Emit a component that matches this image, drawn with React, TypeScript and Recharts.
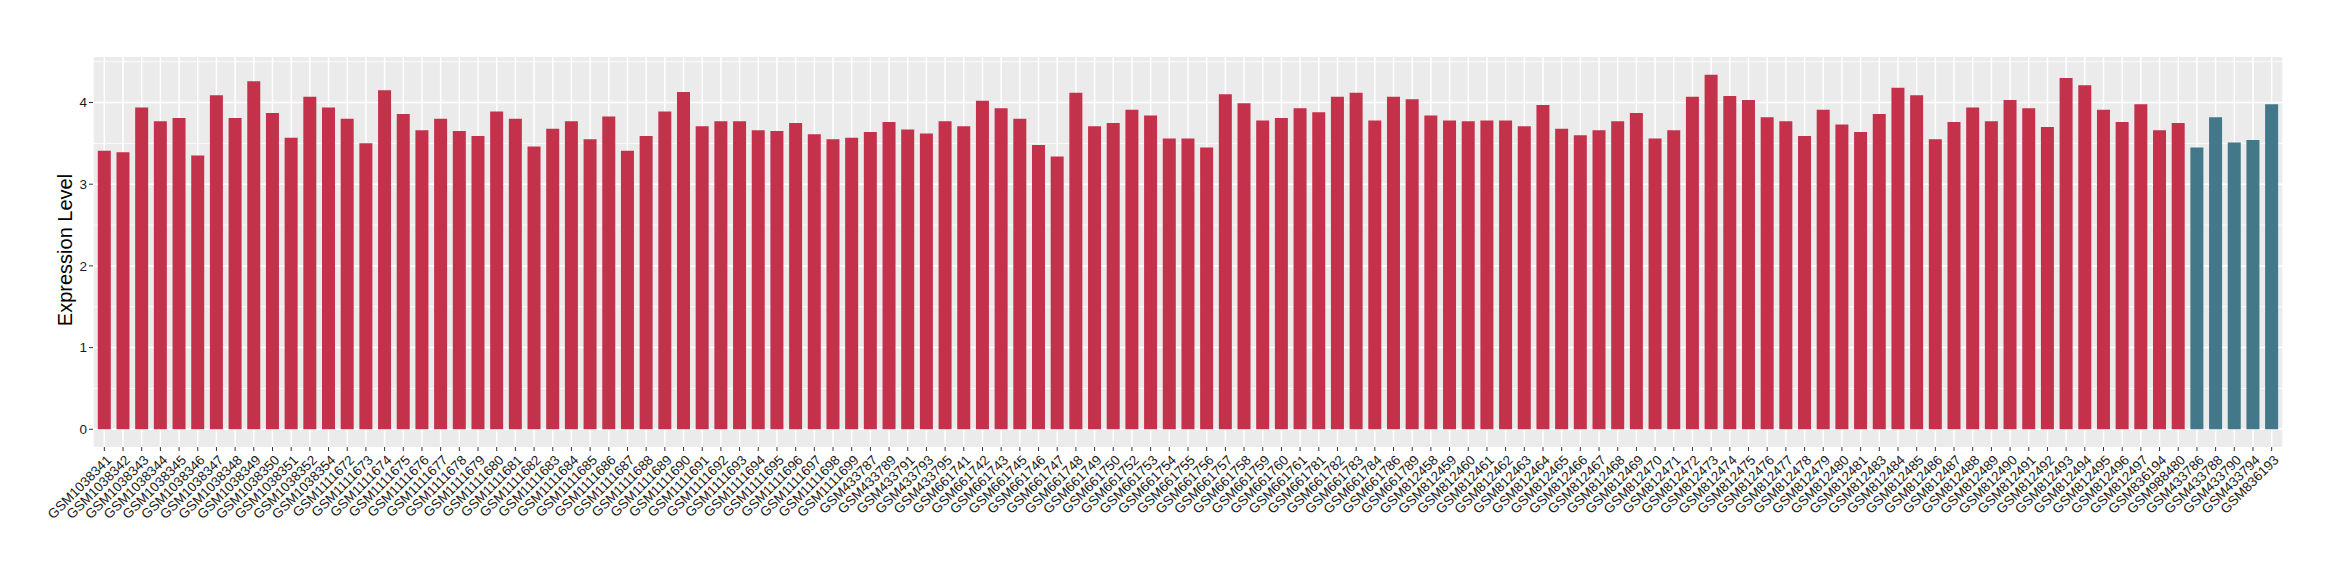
import React from "react";
import { Bar, BarChart, CartesianGrid, Cell, XAxis, YAxis } from "recharts";

const samples = [
  "GSM1038341", "GSM1038342", "GSM1038343", "GSM1038344", "GSM1038345", "GSM1038346", "GSM1038347",
  "GSM1038348", "GSM1038349", "GSM1038350", "GSM1038351", "GSM1038352", "GSM1038354",
  "GSM1111672", "GSM1111673", "GSM1111674", "GSM1111675", "GSM1111676", "GSM1111677", "GSM1111678",
  "GSM1111679", "GSM1111680", "GSM1111681", "GSM1111682", "GSM1111683", "GSM1111684", "GSM1111685",
  "GSM1111686", "GSM1111687", "GSM1111688", "GSM1111689", "GSM1111690", "GSM1111691", "GSM1111692",
  "GSM1111693", "GSM1111694", "GSM1111695", "GSM1111696", "GSM1111697", "GSM1111698", "GSM1111699",
  "GSM433787", "GSM433789", "GSM433791", "GSM433793", "GSM433795",
  "GSM661741", "GSM661742", "GSM661743", "GSM661745", "GSM661746", "GSM661747", "GSM661748",
  "GSM661749", "GSM661750", "GSM661752", "GSM661753", "GSM661754", "GSM661755", "GSM661756",
  "GSM661757", "GSM661758", "GSM661759", "GSM661760", "GSM661761", "GSM661781", "GSM661782",
  "GSM661783", "GSM661784", "GSM661786", "GSM661789",
  "GSM812458", "GSM812459", "GSM812460", "GSM812461", "GSM812462", "GSM812463", "GSM812464",
  "GSM812465", "GSM812466", "GSM812467", "GSM812468", "GSM812469", "GSM812470", "GSM812471",
  "GSM812472", "GSM812473", "GSM812474", "GSM812475", "GSM812476", "GSM812477", "GSM812478",
  "GSM812479", "GSM812480", "GSM812481", "GSM812483", "GSM812484", "GSM812485", "GSM812486",
  "GSM812487", "GSM812488", "GSM812489", "GSM812490", "GSM812491", "GSM812492", "GSM812493",
  "GSM812494", "GSM812495", "GSM812496", "GSM812497", "GSM836194", "GSM988480",
  "GSM433786", "GSM433788", "GSM433790", "GSM433794", "GSM836193",
];

const expression = [
  3.41, 3.39, 3.94, 3.77, 3.81, 3.35, 4.09, 3.81, 4.26, 3.87, 3.57, 4.07, 3.94,
  3.8, 3.5, 4.15, 3.86, 3.66, 3.8, 3.65, 3.59, 3.89, 3.8, 3.46, 3.68, 3.77, 3.55,
  3.83, 3.41, 3.59, 3.89, 4.13, 3.71, 3.77, 3.77, 3.66, 3.65, 3.75, 3.61, 3.55, 3.57,
  3.64, 3.76, 3.67, 3.62, 3.77,
  3.71, 4.02, 3.93, 3.8, 3.48, 3.34, 4.12, 3.71, 3.75, 3.91, 3.84, 3.56, 3.56, 3.45,
  4.1, 3.99, 3.78, 3.81, 3.93, 3.88, 4.07, 4.12, 3.78, 4.07, 4.04,
  3.84, 3.78, 3.77, 3.78, 3.78, 3.71, 3.97, 3.68, 3.6, 3.66, 3.77, 3.87, 3.56, 3.66,
  4.07, 4.34, 4.08, 4.03, 3.82, 3.77, 3.59, 3.91, 3.73, 3.64, 3.86, 4.18, 4.09, 3.55,
  3.76, 3.94, 3.77, 4.03, 3.93, 3.7, 4.3, 4.21, 3.91, 3.76, 3.98, 3.66, 3.75,
  3.45, 3.82, 3.51, 3.54, 3.98,
];

const normalSamples = ["GSM433786", "GSM433788", "GSM433790", "GSM433794", "GSM836193"];
const yTicks = [0, 1, 2, 3, 4];
const yMinor = [0.5, 1.5, 2.5, 3.5, 4.5];

const data = samples.map((s, i) => ({ sample: s, value: expression[i] }));

const SampleTick = (props: any) => {
  const { x, payload } = props;
  const ax = x + 1;
  const ay = 454;
  return (
    <text
      x={ax}
      y={ay}
      dy="0.72em"
      textAnchor="end"
      transform={`rotate(-45 ${ax} ${ay})`}
      fontSize={13.5}
      fill="#1A1A1A"
    >
      {payload.value}
    </text>
  );
};

export default function App() {
  return (
    <div
      style={{
        position: "absolute",
        left: 0,
        top: 0,
        width: 2340,
        height: 580,
        background: "white",
        fontFamily: "'Liberation Sans', Arial, sans-serif",
      }}
    >
      <BarChart
        width={2340}
        height={580}
        data={data}
        margin={{ top: 57, right: 57, bottom: 33, left: 53 }}
        barCategoryGap="15%"
      >
        <CartesianGrid
          fill="#EBEBEB"
          stroke="#FFFFFF"
          strokeWidth={0.8}
          vertical={false}
          horizontalValues={yMinor}
        />
        <CartesianGrid stroke="#FFFFFF" strokeWidth={1.5} horizontalValues={yTicks} />
        <XAxis
          dataKey="sample"
          interval={0}
          height={100}
          padding={{ left: 2, right: 2 }}
          axisLine={false}
          tickSize={4}
          tickLine={{ stroke: "#333333" }}
          tick={<SampleTick />}
        />
        <YAxis
          width={40}
          domain={[-0.217, 4.557]}
          ticks={yTicks}
          allowDataOverflow
          axisLine={false}
          tickSize={4}
          tickMargin={2}
          tickLine={{ stroke: "#333333" }}
          tick={{ fill: "#1A1A1A", fontSize: 13.5 }}
        />
        <Bar dataKey="value" isAnimationActive={false}>
          {data.map((d, i) => (
            <Cell
              key={`c-${i}`}
              fill={normalSamples.includes(d.sample) ? "#427889" : "#C4314B"}
            />
          ))}
        </Bar>
      </BarChart>
      <div
        style={{
          position: "absolute",
          left: 65,
          top: 250,
          transform: "translate(-50%, -50%) rotate(-90deg)",
          fontSize: 20,
          color: "#000",
          whiteSpace: "nowrap",
        }}
      >
        Expression Level
      </div>
    </div>
  );
}
